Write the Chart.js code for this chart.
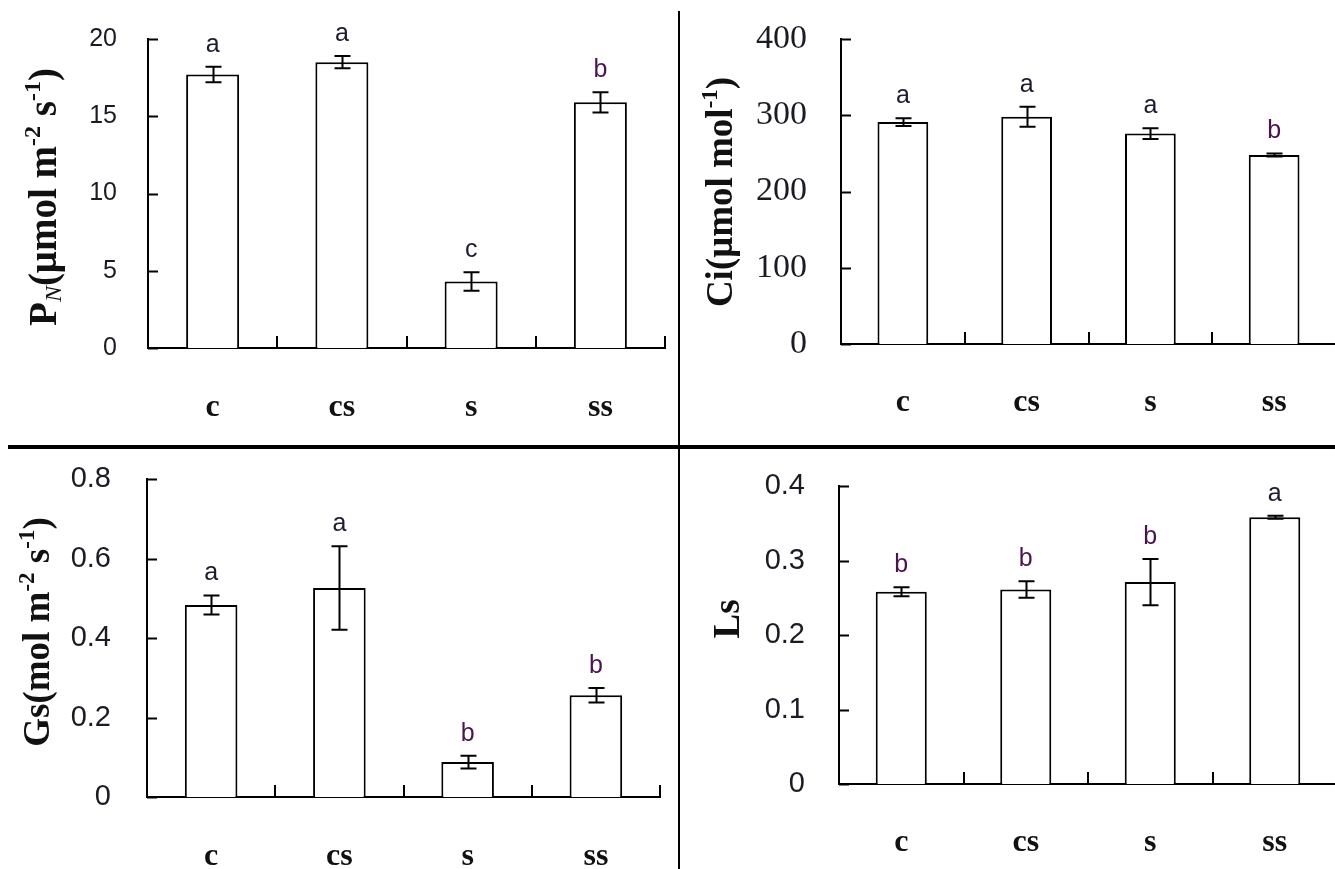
<!DOCTYPE html>
<html>
<head>
<meta charset="utf-8">
<script src="https://cdn.jsdelivr.net/npm/chart.js@4.4.1/dist/chart.umd.min.js"></script>
<style>
html, body { margin: 0; padding: 0; background: #fff; overflow: hidden; }
#page { position: relative; width: 1335px; height: 869px; }
.panel { position: absolute; }
#hline { position: absolute; left: 8px; top: 445px; width: 1327px; height: 4px; background: #000; }
#vline { position: absolute; left: 678px; top: 11px; width: 2px; height: 858px; background: #000; }
</style>
</head>
<body>
<div id="page">
    <div class="panel" style="left:0;top:0;width:670px;height:440px"><canvas id="pn"></canvas></div>
    <div class="panel" style="left:670px;top:0;width:670px;height:440px"><canvas id="ci"></canvas></div>
    <div class="panel" style="left:0;top:450px;width:670px;height:419px"><canvas id="gs"></canvas></div>
    <div class="panel" style="left:670px;top:450px;width:670px;height:419px"><canvas id="ls"></canvas></div>
    <div id="hline"></div>
    <div id="vline"></div>
</div>
<script>
// treatments
const treatments = ['c', 'cs', 's', 'ss'];

// net photosynthetic rate
const pnMeans = [17.7, 18.5, 4.3, 15.9];
const pnErrors = [0.5, 0.4, 0.6, 0.65];
const pnLetters = ['a', 'a', 'c', 'b'];
const pnTicks = [0, 5, 10, 15, 20];

// intercellular CO2
const ciMeans = [291, 298, 276, 248];
const ciErrors = [5, 13, 7, 2];
const ciLetters = ['a', 'a', 'a', 'b'];
const ciTicks = [0, 100, 200, 300, 400];

// stomatal conductance
const gsMeans = [0.483, 0.526, 0.088, 0.256];
const gsErrors = [0.024, 0.105, 0.016, 0.018];
const gsLetters = ['a', 'a', 'b', 'b'];
const gsTicks = [0, 0.2, 0.4, 0.6, 0.8];

// stomatal limitation
const lsMeans = [0.258, 0.261, 0.271, 0.358];
const lsErrors = [0.006, 0.011, 0.031, 0.002];
const lsLetters = ['b', 'b', 'b', 'a'];
const lsTicks = [0, 0.1, 0.2, 0.3, 0.4];

const letterColors = { a: '#1c1c30', b: '#4a1450', c: '#1c1c30' };

// draws a rotated axis title made of pieces (sup / sub)
function drawTitle(ctx, parts, cx, cy, size) {
    const fontFor = p => {
        const s = p.sup || p.sub ? Math.round(size * 0.62) : size;
        return (p.italic ? 'italic ' : '') + (p.sub ? '' : 'bold ') + s + 'px "Liberation Serif"';
    };
    let total = 0;
    parts.forEach(p => { ctx.font = fontFor(p); total += ctx.measureText(p.t).width; });
    ctx.save();
    ctx.translate(cx, cy);
    ctx.rotate(-Math.PI / 2);
    ctx.fillStyle = '#111';
    ctx.textBaseline = 'alphabetic';
    let x = -total / 2;
    const base = size * 0.33;
    parts.forEach(p => {
        ctx.font = fontFor(p);
        let y = base;
        if (p.sup) y = base - size * 0.4;
        if (p.sub) y = base + size * 0.12;
        ctx.fillText(p.t, x, y);
        x += ctx.measureText(p.t).width;
    });
    ctx.restore();
}

const extras = {
    id: 'extras',
    afterDatasetsDraw(chart) {
        const cfg = chart.options.plugins.extras;
        const ctx = chart.ctx;
        const area = chart.chartArea;
        const xs = chart.scales.x;
        const ys = chart.scales.y;
        ctx.save();
        ctx.strokeStyle = '#000';
        ctx.lineWidth = 2;
        // inward ticks
        cfg.ticks.forEach(v => {
            const y = Math.round(ys.getPixelForValue(v)) + 0.5;
            ctx.beginPath();
            ctx.moveTo(area.left, y);
            ctx.lineTo(area.left + 10, y);
            ctx.stroke();
        });
        for (let i = 1; i <= treatments.length; i++) {
            const x = Math.round(xs.getPixelForValue(i - 0.5));
            ctx.beginPath();
            ctx.moveTo(x, area.bottom);
            ctx.lineTo(x, area.bottom - 12);
            ctx.stroke();
        }
        // error bars + letters
        const meta = chart.getDatasetMeta(0);
        meta.data.forEach((bar, i) => {
            const m = cfg.means[i], e = cfg.errors[i];
            const yt = ys.getPixelForValue(m + e);
            const yb = ys.getPixelForValue(m - e);
            const x = Math.round(bar.x) + 0.5;
            ctx.beginPath();
            ctx.moveTo(x, yt); ctx.lineTo(x, yb);
            ctx.moveTo(x - 8, yt); ctx.lineTo(x + 8, yt);
            ctx.moveTo(x - 8, yb); ctx.lineTo(x + 8, yb);
            ctx.stroke();
            ctx.font = '25px "Liberation Sans"';
            ctx.textAlign = 'center';
            ctx.textBaseline = 'middle';
            ctx.fillStyle = letterColors[cfg.letters[i]];
            ctx.fillText(cfg.letters[i], bar.x, yt - 22);
        });
        ctx.restore();
        drawTitle(ctx, cfg.title, cfg.titlePos[0], cfg.titlePos[1], cfg.titleSize);
    }
};

function makePanel(id, cfg) {
    return new Chart(document.getElementById(id), {
        type: 'bar',
        data: {
            labels: treatments,
            datasets: [{
                data: cfg.means,
                backgroundColor: '#fff',
                borderColor: '#000',
                borderWidth: 2,
                categoryPercentage: 1,
                barPercentage: 0.41
            }]
        },
        options: {
            responsive: true,
            maintainAspectRatio: false,
            animation: false,
            events: [],
            layout: { padding: { top: cfg.area.top, right: cfg.area.right, bottom: 0, left: 0 } },
            plugins: {
                legend: { display: false },
                tooltip: { enabled: false },
                extras: cfg
            },
            scales: {
                x: {
                    grid: { display: false, drawTicks: false },
                    border: { color: '#000', width: 2 },
                    ticks: {
                        font: { family: '"Liberation Serif"', size: 32, weight: 'bold' },
                        color: '#111',
                        padding: cfg.xPad
                    },
                    afterFit: s => {
                        s.height = cfg.area.bottom;
                        s.paddingLeft = 0; s.paddingRight = 0;
                    }
                },
                y: {
                    min: 0,
                    max: cfg.ticks[cfg.ticks.length - 1],
                    afterBuildTicks: s => { s.ticks = cfg.ticks.map(v => ({ value: v })); },
                    grid: { display: false, drawTicks: false },
                    border: { color: '#000', width: 2 },
                    ticks: {
                        font: cfg.tickFont,
                        color: '#1e1a24',
                        padding: cfg.yPad,
                        callback: v => String(v)
                    },
                    afterFit: s => {
                        s.width = cfg.area.left;
                        s.paddingTop = 0; s.paddingBottom = 0;
                    }
                }
            }
        },
        plugins: [extras]
    });
}

makePanel('pn', {
    means: pnMeans, errors: pnErrors, letters: pnLetters, ticks: pnTicks,
    area: { left: 148, top: 39, right: 5, bottom: 92 },
    xPad: 41, yPad: 31,
    tickFont: { family: '"Liberation Sans"', size: 25 },
    title: [{ t: 'P' }, { t: 'N', sub: true, italic: true }, { t: '(μmol m' }, { t: '-2', sup: true }, { t: ' s' }, { t: '-1', sup: true }, { t: ')' }],
    titleSize: 39,
    titlePos: [43, 197]
});

makePanel('ci', {
    means: ciMeans, errors: ciErrors, letters: ciLetters, ticks: ciTicks,
    area: { left: 171, top: 39, right: 4, bottom: 96 },
    xPad: 40, yPad: 34,
    tickFont: { family: '"Liberation Serif"', size: 34 },
    title: [{ t: 'Ci(μmol mol' }, { t: '-1', sup: true }, { t: ')' }],
    titleSize: 37,
    titlePos: [50, 192]
});

makePanel('gs', {
    means: gsMeans, errors: gsErrors, letters: gsLetters, ticks: gsTicks,
    area: { left: 147, top: 29, right: 10, bottom: 72 },
    xPad: 41, yPad: 36,
    tickFont: { family: '"Liberation Sans"', size: 29 },
    title: [{ t: 'Gs(mol m' }, { t: '-2', sup: true }, { t: ' s' }, { t: '-1', sup: true }, { t: ')' }],
    titleSize: 37,
    titlePos: [37, 182]
});

makePanel('ls', {
    means: lsMeans, errors: lsErrors, letters: lsLetters, ticks: lsTicks,
    area: { left: 169, top: 36, right: 3, bottom: 85 },
    xPad: 40, yPad: 34,
    tickFont: { family: '"Liberation Sans"', size: 29 },
    title: [{ t: 'Ls' }],
    titleSize: 37,
    titlePos: [57, 169]
});
</script>
</body>
</html>
